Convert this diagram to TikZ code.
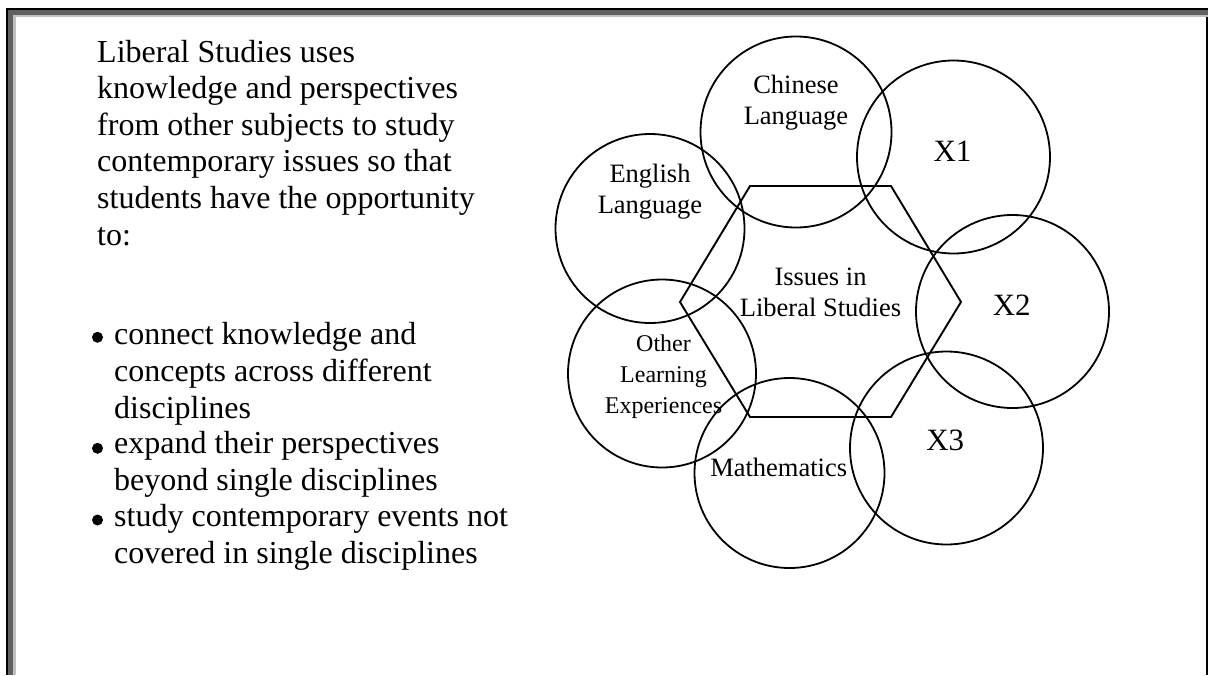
\documentclass[tikz,border=0pt]{standalone}
\usepackage{fontspec}
\setmainfont{Liberation Serif}
\definecolor{framedark}{RGB}{96,96,96}
\definecolor{framelight}{RGB}{192,192,192}
\begin{document}
\begin{tikzpicture}[x=1pt,y=-1pt,
  ring/.style={draw=black, line width=1.8pt, circle, inner sep=0pt},
  bodytext/.style={anchor=base west, inner sep=0pt, align=left, font=\fontsize{32}{36.6}\selectfont},
  lbl/.style={anchor=base, inner sep=0pt, align=center, font=\fontsize{26.5}{31}\selectfont},
  xlbl/.style={anchor=base, inner sep=0pt, font=\fontsize{31}{36}\selectfont},
  bulletdot/.style={circle, fill=black, inner sep=0pt, minimum size=11pt}]
\useasboundingbox (0,0) rectangle (1208,675);
% frame
\fill[black] (6,8) rectangle (1208,10.3);
\fill[black] (6,8) rectangle (8.3,675);
\fill[framedark] (8.3,10.3) rectangle (1208,15);
\fill[framedark] (8.3,10.3) rectangle (13.3,675);
\fill[framelight] (13.3,15) rectangle (1208,17.3);
\fill[framelight] (13.3,15) rectangle (16,675);
\fill[black] (1206,17.3) rectangle (1208,675);
% left text (base anchor = baseline of last line)
\node[bodytext] (intro) at (97,245) {Liberal Studies uses\\knowledge and perspectives\\from other subjects to study\\contemporary issues so that\\students have the opportunity\\to:};
\node[bulletdot] (d1) at (97.5,337.3) {};
\node[bodytext] (b1) at (114,418) {connect knowledge and\\concepts across different\\disciplines};
\node[bulletdot] (d2) at (97.5,448.3) {};
\node[bodytext] (b2) at (114,490.5) {expand their perspectives\\beyond single disciplines};
\node[bulletdot] (d3) at (97.5,520) {};
\node[bodytext] (b3) at (114,563) {study contemporary events not\\covered in single disciplines};
% hexagon
\draw[line width=1.9pt, line join=miter] (680,302) -- (750,186) -- (891,186) -- (961,302) -- (891,417) -- (750,417) -- cycle;
% circles
\node[ring, minimum size=191pt] (chi) at (796,132) {};
\node[ring, minimum size=193pt] (cx1) at (953.5,157) {};
\node[ring, minimum size=193pt] (cx2) at (1012.5,311.5) {};
\node[ring, minimum size=193pt] (cx3) at (946.5,448) {};
\node[ring, minimum size=190pt] (cma) at (789.5,473) {};
\node[ring, minimum size=188pt] (col) at (662,373.5) {};
\node[ring, minimum size=189pt] (cen) at (650,228.5) {};
% labels (base anchor = baseline of last line)
\node[lbl] (lchi) at (796,124.3) {Chinese\\Language};
\node[lbl] (leng) at (650,213) {English\\Language};
\node[lbl] (liss) at (820.5,316.7) {Issues in\\Liberal Studies};
\node[lbl, font=\fontsize{24}{31}\selectfont] (lole) at (663.5,413) {Other\\Learning\\Experiences};
\node[lbl] (lmat) at (778.7,476.7) {Mathematics};
\node[xlbl] (lx1) at (952.5,161) {X1};
\node[xlbl] (lx2) at (1011.7,315) {X2};
\node[xlbl] (lx3) at (945.3,450.7) {X3};
\end{tikzpicture}
\end{document}
